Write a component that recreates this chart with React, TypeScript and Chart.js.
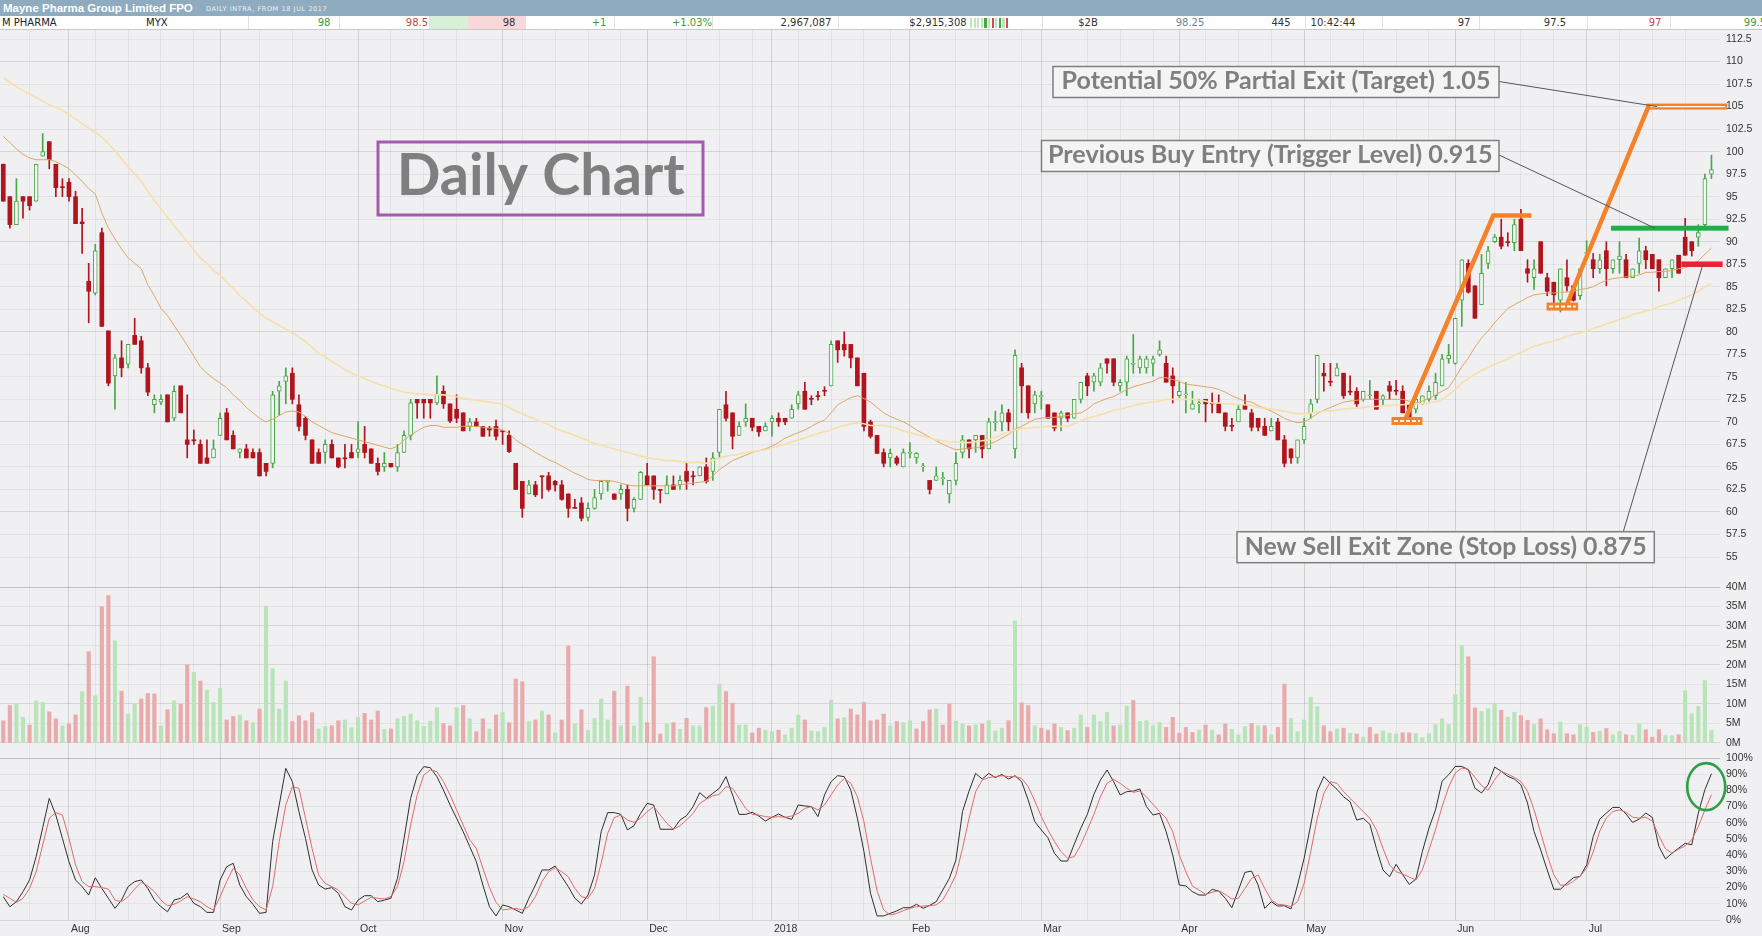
import React, { useEffect, useRef } from "react";
import { Chart, registerables } from "chart.js";

Chart.register(...registerables);

// ---------------- categories ----------------
const FIRST_DAY = "2017-07-18";
const LAST_DAY = "2018-07-27";
const MARKET_HOLIDAYS = ["2017-12-25", "2017-12-26", "2018-01-01", "2018-01-26", "2018-03-30", "2018-04-02", "2018-04-25", "2018-06-11"];
const MONTH_TICK_LABELS = ["Aug", "Sep", "Oct", "Nov", "Dec", "2018", "Feb", "Mar", "Apr", "May", "Jun", "Jul"];

// ---------------- tick labels ----------------
const PRICE_TICKS = [55, 57.5, 60, 62.5, 65, 67.5, 70, 72.5, 75, 77.5, 80, 82.5, 85, 87.5, 90, 92.5, 95, 97.5, 100, 102.5, 105, 107.5, 110, 112.5];
const VOLUME_TICKS = [0, 5, 10, 15, 20, 25, 30, 35, 40];
const STOCH_TICKS = [0, 10, 20, 30, 40, 50, 60, 70, 80, 90, 100];

// ---------------- price series (cents) ----------------
const OPEN = [
  98.6, 95.0, 91.9, 95.0, 95.0, 94.5, 99.5, 101.1, 98.6, 96.1,
  96.6, 95.0, 92.2, 85.6, 84.3, 91.0, 80.1, 75.1, 77.1, 76.4,
  79.6, 79.0, 76.0, 71.9, 72.2, 73.0, 70.4, 74.0, 68.0, 68.0,
  67.5, 66.0, 66.0, 68.5, 71.0, 68.5, 66.6, 67.0, 66.6, 66.6,
  65.4, 65.4, 73.4, 74.5, 75.4, 71.9, 70.4, 68.0, 66.6, 66.6,
  67.5, 66.0, 66.0, 66.6, 66.6, 67.5, 67.0, 65.4, 65.0, 65.4,
  65.0, 66.6, 68.5, 72.5, 72.5, 72.5, 72.1, 73.4, 72.0, 71.4,
  71.0, 69.5, 70.0, 69.5, 69.3, 69.5, 69.0, 68.5, 65.4, 63.4,
  62.0, 63.0, 64.0, 64.0, 63.4, 63.0, 62.0, 60.5, 61.0, 59.4,
  60.4, 62.0, 63.3, 62.0, 62.0, 62.5, 60.4, 61.4, 64.0, 64.0,
  62.5, 62.0, 63.0, 63.0, 64.5, 64.0, 64.0, 65.0, 64.5, 66.6,
  71.9, 71.0, 68.5, 70.0, 70.4, 69.5, 69.0, 70.0, 70.4, 70.4,
  70.4, 72.0, 73.4, 72.6, 72.9, 73.5, 74.0, 79.0, 78.6, 78.6,
  77.1, 75.4, 70.0, 68.5, 66.6, 66.0, 66.0, 65.0, 66.5, 66.0,
  65.0, 63.5, 63.5, 63.7, 62.0, 63.5, 66.6, 68.0, 68.0, 68.5,
  67.0, 69.9, 70.0, 71.0, 67.0, 76.0, 74.0, 72.0, 72.8, 71.9,
  71.0, 70.4, 71.0, 70.4, 72.5, 75.1, 74.4, 74.4, 77.0, 77.0,
  74.0, 74.4, 76.4, 76.0, 76.0, 76.5, 77.5, 76.5, 75.1, 72.9,
  73.0, 71.4, 72.0, 72.5, 72.1, 72.0, 71.0, 69.6, 70.0, 71.9,
  71.0, 70.4, 69.5, 69.0, 70.0, 68.0, 67.0, 66.0, 68.0, 71.0,
  72.5, 75.4, 74.5, 75.1, 75.4, 73.4, 73.4, 72.5, 72.9, 73.4,
  72.5, 74.0, 73.5, 73.4, 71.9, 71.4, 72.0, 72.5, 72.9, 74.0,
  77.0, 76.5, 83.5, 87.6, 85.1, 83.0, 87.6, 90.0, 90.5, 90.0,
  89.9, 92.5, 87.0, 86.0, 90.0, 86.0, 85.5, 83.5, 86.0, 85.1,
  84.0, 88.7, 88.0, 87.0, 89.0, 87.0, 88.0, 88.0, 86.0, 87.6,
  89.0, 88.6, 88.0, 86.0, 87.0, 88.5, 90.5, 90.0, 90.5, 91.9,
  97.5,
];
const HIGH = [
  98.6, 95.0, 97.0, 95.0, 95.0, 98.6, 102.0, 101.1, 98.6, 97.0,
  97.0, 95.6, 93.7, 87.6, 89.7, 91.5, 80.1, 77.5, 79.0, 78.6,
  81.5, 79.5, 76.5, 73.0, 73.0, 73.0, 74.0, 74.0, 73.0, 69.1,
  68.0, 68.0, 68.0, 71.0, 71.5, 69.0, 67.0, 67.5, 67.0, 67.0,
  65.4, 73.4, 74.5, 76.0, 76.0, 73.0, 70.6, 68.0, 67.0, 68.0,
  68.0, 66.0, 67.5, 67.5, 70.0, 69.5, 67.0, 66.0, 66.6, 65.4,
  67.5, 69.0, 72.5, 72.5, 72.5, 72.5, 75.1, 74.0, 72.0, 73.0,
  71.0, 70.4, 70.4, 69.5, 69.5, 70.2, 69.0, 69.0, 65.4, 63.4,
  63.5, 63.4, 64.0, 64.4, 63.5, 63.5, 62.0, 61.4, 61.6, 61.0,
  62.5, 63.5, 63.5, 62.0, 63.0, 63.0, 61.6, 64.5, 65.4, 64.0,
  62.5, 64.0, 64.0, 64.0, 65.4, 64.5, 65.0, 66.0, 66.6, 71.4,
  73.4, 71.0, 70.0, 72.0, 70.4, 69.5, 69.9, 70.7, 71.0, 70.4,
  71.9, 73.4, 74.4, 72.9, 73.4, 73.9, 79.0, 79.0, 80.0, 78.6,
  77.1, 75.4, 70.2, 68.5, 67.0, 67.0, 66.2, 67.0, 67.7, 66.6,
  65.4, 63.5, 65.0, 64.4, 63.5, 66.6, 68.5, 68.0, 68.5, 68.5,
  70.4, 71.2, 71.9, 71.4, 78.0, 76.5, 74.0, 73.4, 73.4, 71.9,
  71.0, 71.2, 71.0, 72.5, 74.4, 75.4, 75.4, 76.5, 77.0, 77.0,
  74.7, 77.3, 79.7, 77.3, 77.3, 77.3, 79.0, 77.3, 76.0, 74.4,
  74.4, 73.4, 72.5, 72.5, 73.2, 73.0, 71.0, 70.4, 71.9, 73.0,
  71.4, 70.4, 70.4, 70.4, 70.4, 68.5, 67.0, 68.0, 70.4, 72.5,
  77.4, 76.5, 76.5, 76.5, 75.4, 75.1, 73.8, 73.4, 74.6, 73.4,
  73.0, 74.5, 74.6, 74.0, 71.9, 72.9, 72.9, 74.0, 75.4, 77.5,
  78.6, 81.5, 88.0, 88.0, 85.1, 88.6, 89.5, 90.8, 92.5, 91.0,
  92.5, 93.6, 88.0, 88.0, 90.0, 86.5, 85.5, 87.0, 88.0, 85.1,
  87.0, 90.1, 88.7, 88.6, 90.0, 88.0, 90.0, 88.6, 87.0, 90.4,
  89.5, 88.6, 88.0, 87.0, 88.0, 88.5, 92.6, 90.0, 91.9, 97.5,
  99.6,
];
const LOW = [
  94.5, 91.5, 91.9, 92.6, 93.5, 94.5, 99.5, 98.1, 95.0, 95.0,
  94.5, 92.0, 88.7, 81.0, 84.1, 80.6, 74.0, 71.4, 75.0, 76.0,
  78.6, 75.4, 72.9, 71.0, 71.9, 70.0, 70.1, 71.0, 66.0, 67.5,
  65.4, 65.4, 66.0, 68.5, 68.0, 67.0, 66.0, 66.0, 66.0, 64.0,
  64.0, 64.9, 70.7, 72.0, 72.0, 69.0, 68.0, 65.4, 65.4, 65.4,
  66.0, 64.9, 64.9, 66.0, 66.0, 66.0, 65.4, 64.1, 64.5, 65.0,
  64.5, 66.6, 68.0, 70.4, 70.4, 70.4, 71.9, 71.5, 69.9, 69.9,
  69.0, 69.0, 69.5, 68.4, 68.4, 68.0, 67.5, 66.6, 62.5, 59.4,
  62.0, 61.7, 61.5, 62.3, 62.3, 61.3, 59.4, 60.4, 59.0, 59.0,
  60.3, 61.4, 62.3, 61.4, 61.4, 59.0, 60.0, 61.4, 63.0, 61.4,
  61.0, 62.0, 62.5, 62.5, 62.5, 63.0, 64.0, 63.2, 63.5, 66.0,
  70.1, 67.0, 68.5, 69.5, 69.0, 68.4, 69.0, 68.4, 69.5, 69.7,
  70.4, 71.4, 71.4, 71.9, 72.4, 72.9, 74.0, 76.6, 77.3, 76.0,
  74.0, 69.0, 68.2, 66.5, 65.0, 65.0, 65.2, 65.0, 66.0, 65.4,
  64.5, 62.0, 63.5, 63.0, 61.0, 63.0, 66.0, 66.0, 66.6, 66.0,
  67.0, 69.0, 69.0, 69.0, 66.0, 71.0, 70.4, 71.0, 71.4, 70.4,
  69.0, 69.0, 70.0, 70.4, 72.1, 72.9, 73.4, 74.0, 75.4, 74.0,
  73.4, 72.9, 75.4, 75.4, 75.4, 75.1, 77.3, 74.4, 72.1, 72.7,
  71.0, 71.4, 71.0, 70.0, 71.0, 71.0, 69.0, 69.0, 70.0, 71.4,
  69.0, 69.0, 68.5, 69.0, 68.0, 65.0, 65.4, 65.4, 67.6, 70.4,
  72.1, 73.4, 74.0, 75.1, 72.6, 73.0, 71.7, 72.3, 72.6, 71.4,
  71.9, 72.5, 73.0, 71.0, 69.7, 71.0, 71.9, 72.3, 72.5, 74.0,
  76.5, 76.4, 80.6, 84.3, 81.5, 83.0, 87.0, 89.9, 89.2, 89.5,
  89.0, 89.0, 85.5, 84.7, 86.5, 84.0, 82.8, 82.2, 84.5, 83.4,
  83.6, 88.0, 86.0, 86.5, 85.1, 86.5, 86.5, 86.0, 86.0, 86.5,
  87.0, 87.0, 84.5, 86.0, 86.0, 86.5, 88.5, 88.4, 89.5, 91.7,
  97.0,
];
const CLOSE = [
  94.5, 91.9, 94.5, 94.5, 94.0, 98.6, 100.0, 99.1, 96.0, 96.0,
  95.0, 92.0, 92.0, 84.5, 89.0, 80.6, 74.3, 77.1, 76.0, 78.6,
  78.6, 76.0, 73.3, 72.5, 72.5, 70.0, 73.4, 71.0, 67.5, 67.9,
  65.4, 65.4, 67.0, 70.4, 68.0, 67.0, 67.0, 66.0, 66.0, 64.0,
  64.5, 73.0, 74.0, 75.1, 72.5, 69.5, 68.5, 65.4, 65.4, 67.5,
  66.0, 65.0, 65.9, 66.0, 67.0, 66.6, 65.4, 64.5, 65.4, 65.0,
  66.6, 68.5, 72.1, 72.1, 72.1, 72.1, 73.0, 72.0, 70.1, 70.4,
  69.0, 70.0, 69.5, 68.4, 69.1, 68.4, 68.9, 66.7, 62.5, 60.4,
  63.0, 61.9, 63.9, 62.5, 63.0, 61.4, 60.4, 60.4, 59.3, 60.4,
  61.6, 63.4, 63.4, 61.4, 62.5, 60.4, 61.4, 64.4, 63.0, 62.5,
  62.4, 63.0, 62.5, 63.5, 63.4, 63.9, 65.0, 63.4, 66.0, 71.4,
  70.4, 68.4, 69.5, 70.4, 69.4, 68.9, 69.5, 70.4, 70.0, 70.0,
  71.4, 73.0, 71.4, 72.5, 72.8, 73.4, 78.6, 78.0, 78.0, 77.1,
  74.0, 69.5, 68.4, 66.5, 65.4, 66.5, 65.4, 66.6, 66.6, 66.5,
  65.1, 62.5, 64.0, 63.8, 63.5, 65.4, 68.0, 67.0, 68.5, 67.0,
  70.0, 70.0, 71.0, 70.0, 77.4, 74.0, 71.0, 73.0, 72.9, 70.4,
  69.3, 71.0, 70.4, 72.5, 74.4, 74.0, 75.1, 76.0, 76.5, 74.4,
  74.4, 77.0, 76.5, 77.0, 77.0, 77.0, 78.0, 74.4, 74.0, 73.4,
  73.1, 72.0, 72.1, 72.0, 72.0, 71.0, 69.5, 69.5, 71.4, 71.4,
  69.4, 69.4, 68.5, 69.5, 68.0, 65.4, 66.0, 68.0, 69.5, 72.0,
  77.4, 75.1, 74.4, 76.0, 72.9, 73.3, 72.0, 73.4, 73.0, 71.4,
  72.9, 73.4, 73.4, 71.0, 70.3, 72.5, 72.9, 73.4, 74.4, 77.0,
  77.4, 81.5, 88.0, 84.4, 81.5, 86.5, 89.0, 90.5, 89.5, 89.9,
  91.9, 89.0, 86.5, 87.0, 86.5, 84.5, 84.1, 87.0, 85.1, 83.5,
  87.0, 88.8, 87.0, 88.0, 87.0, 88.0, 88.4, 86.0, 87.0, 89.0,
  88.0, 87.0, 86.0, 87.0, 88.0, 86.5, 88.5, 89.0, 91.0, 97.0,
  98.0,
];
const MA_FAST = [
  101.7, 101.0, 100.3, 99.7, 99.3, 99.1, 99.1, 99.1, 98.9, 98.5,
  98.1, 97.4, 96.7, 95.9, 95.3, 93.2, 91.5, 90.3, 89.2, 88.2,
  87.6, 87.0, 85.2, 84.0, 82.6, 81.8, 80.7, 79.6, 78.5, 77.3,
  76.1, 75.4, 74.8, 74.3, 73.8, 73.0, 72.4, 71.6, 71.0, 70.4,
  70.0, 70.3, 70.7, 71.1, 71.2, 71.1, 70.6, 70.0, 69.6, 69.2,
  68.8, 68.6, 68.4, 68.2, 68.0, 67.8, 67.6, 67.4, 67.2, 67.0,
  67.3, 68.0, 68.5, 69.0, 69.4, 69.6, 69.6, 69.4, 69.4, 69.4,
  69.5, 69.5, 69.5, 69.4, 69.3, 69.3, 69.1, 68.7, 68.0, 67.5,
  67.1, 66.6, 66.2, 65.8, 65.5, 65.1, 64.7, 64.3, 64.0, 63.6,
  63.5, 63.5, 63.5, 63.4, 63.2, 63.0, 62.9, 62.9, 62.9, 62.9,
  62.9, 62.9, 62.9, 63.0, 63.1, 63.2, 63.3, 63.4, 64.0, 64.7,
  65.2, 65.7, 66.0, 66.3, 66.6, 66.8, 67.0, 67.3, 67.7, 68.2,
  68.5, 68.8, 69.1, 69.5, 69.9, 70.2, 71.0, 71.9, 72.3, 72.7,
  72.9, 72.6, 72.2, 71.6, 71.0, 70.6, 70.3, 70.0, 69.6, 69.1,
  68.7, 68.3, 67.9, 67.5, 67.2, 66.9, 67.0, 67.1, 67.1, 67.3,
  67.5, 67.8, 68.2, 68.6, 69.2, 69.5, 69.9, 70.3, 70.4, 70.5,
  70.5, 70.6, 70.7, 70.9, 71.0, 71.4, 72.0, 72.3, 72.6, 72.8,
  73.2, 73.6, 73.9, 74.1, 74.3, 74.5, 74.9, 74.9, 74.7, 74.5,
  74.2, 74.1, 74.0, 73.9, 73.8, 73.6, 73.3, 72.9, 72.6, 72.3,
  72.2, 71.8, 71.5, 71.2, 70.8, 70.4, 70.1, 69.9, 70.0, 70.4,
  70.9, 71.3, 71.6, 71.9, 72.2, 72.3, 72.4, 72.5, 72.5, 72.5,
  72.5, 72.5, 72.5, 72.5, 72.3, 72.1, 72.3, 72.6, 73.0, 73.4,
  73.8, 74.9, 76.1, 77.1, 78.3, 79.3, 80.1, 81.0, 81.8, 82.6,
  83.0, 83.4, 83.8, 84.1, 84.2, 84.3, 84.3, 84.4, 84.4, 84.5,
  84.7, 84.8, 85.0, 85.4, 85.7, 85.9, 86.0, 86.1, 86.2, 86.3,
  86.6, 86.6, 86.7, 86.7, 86.8, 87.0, 87.1, 87.4, 87.9, 88.6,
  89.3,
];
const MA_SLOW = [
  108.2, 107.7, 107.2, 106.8, 106.4, 106.0, 105.6, 105.2, 104.9, 104.6,
  104.1, 103.6, 103.1, 102.6, 102.1, 101.6, 100.9, 100.1, 99.2, 98.3,
  97.5, 96.7, 95.6, 94.6, 93.7, 92.7, 91.8, 90.9, 90.0, 89.1,
  88.2, 87.6, 86.8, 86.3, 85.5, 84.8, 84.0, 83.4, 82.7, 82.1,
  81.5, 81.1, 80.7, 80.3, 79.9, 79.4, 78.9, 78.3, 77.6, 77.2,
  76.7, 76.3, 75.8, 75.4, 75.1, 74.8, 74.5, 74.2, 74.0, 73.7,
  73.5, 73.3, 73.2, 73.1, 73.1, 73.0, 73.0, 73.0, 72.9, 72.8,
  72.6, 72.5, 72.4, 72.3, 72.2, 72.1, 72.0, 71.6, 71.2, 70.9,
  70.6, 70.3, 70.0, 69.7, 69.3, 69.0, 68.8, 68.5, 68.2, 67.9,
  67.6, 67.4, 67.2, 67.0, 66.8, 66.6, 66.4, 66.2, 66.0, 65.9,
  65.8, 65.7, 65.7, 65.6, 65.5, 65.5, 65.5, 65.4, 65.7, 66.0,
  66.2, 66.3, 66.4, 66.6, 66.7, 66.8, 66.9, 67.1, 67.3, 67.5,
  67.8, 68.0, 68.2, 68.5, 68.7, 68.9, 69.1, 69.4, 69.6, 69.8,
  69.9, 69.8, 69.6, 69.6, 69.6, 69.5, 69.3, 69.0, 68.8, 68.6,
  68.4, 68.2, 68.0, 67.9, 67.8, 67.8, 67.7, 67.7, 67.8, 67.9,
  68.0, 68.3, 68.6, 68.9, 69.1, 69.3, 69.3, 69.4, 69.4, 69.5,
  69.5, 69.5, 69.5, 69.8, 70.1, 70.4, 70.6, 70.8, 71.0, 71.3,
  71.4, 71.6, 71.8, 72.0, 72.1, 72.2, 72.3, 72.5, 72.5, 72.5,
  72.5, 72.5, 72.4, 72.3, 72.1, 72.1, 72.0, 72.0, 71.9, 71.9,
  71.8, 71.6, 71.5, 71.4, 71.3, 71.2, 71.0, 70.9, 70.9, 71.0,
  71.1, 71.2, 71.2, 71.3, 71.4, 71.5, 71.5, 71.6, 71.7, 71.7,
  71.8, 71.8, 71.9, 71.9, 72.0, 72.0, 72.0, 72.1, 72.2, 72.5,
  73.0, 73.6, 74.3, 74.8, 75.3, 75.7, 76.0, 76.4, 76.7, 77.0,
  77.4, 77.7, 78.1, 78.4, 78.6, 78.8, 79.0, 79.2, 79.5, 79.7,
  79.9, 80.1, 80.4, 80.6, 80.9, 81.1, 81.4, 81.6, 81.9, 82.1,
  82.3, 82.5, 82.8, 83.0, 83.2, 83.5, 83.8, 84.1, 84.5, 85.0,
  85.3,
];

// ---------------- volume (millions) ----------------
const VOLUME = [
  5.7, 9.6, 10.0, 6.6, 4.6, 10.8, 10.4, 8.0, 6.2, 4.4,
  4.9, 7.2, 13.2, 23.4, 12.1, 35.0, 37.8, 26.2, 13.3, 7.4,
  10.0, 11.3, 12.7, 12.6, 4.4, 8.5, 10.8, 9.9, 20.0, 18.1,
  15.9, 13.6, 10.4, 14.0, 5.9, 6.8, 7.2, 5.7, 5.2, 8.7,
  35.1, 19.1, 8.7, 15.9, 5.5, 7.0, 5.7, 7.8, 3.6, 4.2,
  4.4, 5.7, 5.9, 3.9, 6.5, 7.6, 5.9, 8.2, 3.5, 3.6,
  6.2, 6.8, 7.4, 5.7, 4.2, 5.6, 9.1, 5.0, 4.4, 9.1,
  9.6, 6.2, 2.9, 6.2, 3.6, 7.2, 7.8, 5.2, 16.4, 15.7,
  5.5, 5.9, 8.2, 7.2, 2.6, 5.9, 24.9, 4.9, 8.5, 3.2,
  6.3, 11.3, 5.9, 13.3, 4.4, 14.6, 4.4, 11.7, 5.2, 22.1,
  2.3, 4.9, 5.2, 3.5, 6.3, 4.4, 4.4, 9.1, 9.5, 15.1,
  13.2, 10.2, 4.6, 4.6, 2.6, 3.8, 3.3, 2.9, 3.3, 2.1,
  3.8, 7.2, 5.9, 3.1, 2.9, 4.0, 11.0, 6.2, 6.5, 8.7,
  7.2, 10.4, 5.7, 5.9, 7.4, 4.4, 5.5, 5.2, 5.7, 3.6,
  5.5, 8.5, 8.7, 4.6, 10.0, 5.6, 4.9, 4.4, 4.6, 4.9,
  5.7, 3.1, 3.8, 5.7, 31.3, 10.3, 9.6, 4.4, 3.8, 3.3,
  4.9, 4.0, 3.2, 3.8, 7.2, 4.0, 7.2, 5.5, 7.9, 4.4,
  4.6, 9.5, 10.9, 5.5, 5.7, 4.4, 5.3, 4.0, 6.6, 2.5,
  4.0, 2.7, 3.3, 4.6, 3.3, 2.1, 4.9, 3.5, 2.1, 4.2,
  5.0, 4.4, 4.4, 2.1, 4.0, 15.1, 6.3, 2.9, 5.9, 11.7,
  9.3, 4.4, 2.9, 3.6, 3.8, 2.5, 2.3, 1.5, 4.0, 2.3,
  3.1, 2.5, 2.3, 2.6, 2.6, 2.4, 1.3, 2.4, 4.7, 6.2,
  4.7, 12.4, 25.0, 22.1, 9.0, 8.1, 8.8, 10.0, 8.4, 6.6,
  7.9, 7.0, 5.8, 4.7, 6.2, 3.4, 2.4, 5.4, 2.4, 2.1,
  4.7, 4.0, 2.7, 3.0, 3.7, 2.1, 3.0, 2.1, 1.9, 4.9,
  3.4, 1.5, 3.4, 1.9, 1.9, 2.1, 13.4, 7.5, 9.4, 16.0,
  3.2,
];

// ---------------- stochastic (%) ----------------
const STOCH_K = [
  14.4, 8.2, 11.3, 17.5, 24.7, 39.1, 57.0, 75.1, 64.8, 50.4,
  36.0, 24.7, 20.6, 15.4, 26.1, 19.5, 13.4, 7.2, 12.3, 20.6,
  23.7, 24.7, 19.5, 12.3, 8.2, 5.1, 12.3, 13.4, 16.5, 10.3,
  8.2, 4.7, 4.7, 24.7, 32.9, 35.0, 21.6, 14.4, 9.7, 4.1,
  4.7, 48.4, 71.0, 93.6, 85.4, 66.9, 50.4, 30.9, 21.6, 19.1,
  20.0, 16.5, 8.2, 6.2, 12.3, 15.0, 15.0, 11.3, 12.3, 13.4,
  25.7, 50.4, 75.1, 89.1, 94.7, 94.0, 88.5, 80.2, 71.0, 62.8,
  54.5, 45.3, 36.0, 21.6, 8.2, 2.5, 9.3, 8.2, 6.2, 4.1,
  13.4, 21.6, 30.9, 30.9, 33.3, 26.7, 20.6, 13.4, 9.9, 15.4,
  27.8, 54.5, 66.3, 66.3, 65.2, 55.6, 58.2, 65.8, 72.0, 71.0,
  56.0, 56.0, 56.0, 61.7, 64.4, 70.0, 78.6, 75.1, 78.2, 81.3,
  88.5, 77.2, 65.2, 65.2, 66.5, 64.2, 61.1, 63.4, 65.4, 63.4,
  62.1, 71.0, 70.4, 70.0, 63.8, 77.2, 85.4, 89.1, 88.5, 80.2,
  62.8, 42.2, 16.5, 2.5, 2.5, 4.1, 5.6, 7.6, 7.6, 9.7,
  7.2, 9.0, 11.3, 18.5, 25.7, 37.0, 66.9, 79.6, 90.5, 87.0,
  90.5, 87.9, 89.9, 87.0, 89.1, 85.4, 74.1, 60.7, 55.6, 50.8,
  41.2, 36.4, 36.4, 46.7, 56.6, 65.2, 77.6, 86.4, 92.6, 85.4,
  77.2, 79.2, 79.6, 80.9, 70.0, 64.8, 65.8, 54.5, 40.1, 21.6,
  21.0, 17.5, 15.4, 15.4, 18.9, 17.9, 13.4, 7.6, 18.5, 29.4,
  30.2, 21.6, 7.2, 11.3, 8.6, 8.8, 6.8, 21.6, 38.1, 58.6,
  79.6, 88.5, 84.4, 80.7, 76.1, 73.0, 61.7, 62.8, 59.1, 44.2,
  30.9, 26.7, 34.4, 28.0, 22.0, 25.2, 42.3, 56.7, 68.0, 85.6,
  89.7, 94.8, 94.8, 92.8, 81.4, 78.4, 83.5, 94.4, 91.8, 88.7,
  87.0, 83.5, 72.2, 54.6, 43.3, 30.9, 19.0, 19.0, 22.7, 26.2,
  26.8, 34.0, 51.5, 62.3, 66.0, 69.5, 69.5, 65.4, 60.2, 62.3,
  66.0, 63.3, 45.4, 37.7, 41.2, 44.3, 47.4, 46.4, 66.0, 80.4,
  90.3,
];
const STOCH_D = [
  15.8, 13.4, 10.9, 13.4, 19.5, 29.8, 46.3, 62.8, 66.3, 64.8,
  50.4, 34.0, 23.7, 20.6, 20.6, 20.0, 19.1, 12.3, 11.3, 14.4,
  19.1, 23.3, 21.0, 17.5, 12.3, 8.8, 9.7, 11.7, 14.4, 13.0,
  11.3, 8.2, 6.2, 14.4, 23.7, 31.9, 27.8, 19.5, 12.3, 8.2,
  6.2, 20.6, 48.4, 71.0, 82.3, 81.3, 62.8, 44.2, 27.8, 22.6,
  20.6, 18.5, 14.4, 10.3, 9.3, 11.7, 14.0, 13.4, 13.0, 14.4,
  20.6, 36.0, 58.6, 77.2, 89.5, 92.6, 91.6, 85.4, 77.2, 67.9,
  58.6, 49.4, 44.2, 32.0, 20.0, 11.0, 6.2, 6.8, 7.2, 6.2,
  8.2, 14.4, 23.7, 29.8, 32.3, 29.8, 26.7, 19.5, 14.4, 13.4,
  19.5, 35.0, 53.5, 63.2, 64.8, 61.7, 60.3, 62.8, 66.9, 70.0,
  64.8, 59.7, 56.0, 58.2, 61.7, 65.8, 72.0, 74.5, 76.7, 77.6,
  82.3, 81.3, 75.1, 68.9, 65.2, 64.8, 63.8, 63.4, 63.8, 63.4,
  64.2, 65.8, 68.9, 70.0, 67.9, 71.0, 77.2, 83.3, 87.4, 84.4,
  76.1, 60.7, 38.1, 18.0, 6.2, 3.1, 4.1, 5.8, 7.2, 8.2,
  8.6, 8.8, 9.3, 12.3, 19.5, 27.8, 44.2, 62.8, 79.2, 86.4,
  87.9, 88.5, 89.1, 88.5, 88.5, 87.4, 82.3, 73.5, 63.8, 55.6,
  48.4, 42.2, 38.1, 39.1, 46.3, 55.6, 65.2, 76.1, 84.4, 86.8,
  84.4, 81.3, 78.8, 79.6, 76.1, 71.4, 66.9, 62.8, 54.5, 40.0,
  29.8, 21.0, 18.5, 15.8, 17.1, 18.1, 15.8, 13.0, 13.4, 19.5,
  25.7, 27.8, 19.5, 12.3, 9.7, 9.3, 8.2, 11.3, 22.6, 42.2,
  62.8, 78.2, 85.4, 84.4, 79.2, 75.1, 71.0, 66.9, 62.8, 55.6,
  44.2, 34.0, 29.8, 28.4, 26.5, 24.7, 31.0, 43.3, 55.7, 70.1,
  82.0, 90.7, 93.8, 93.0, 88.0, 83.0, 80.0, 86.6, 91.8, 90.0,
  88.0, 85.5, 79.5, 68.0, 54.0, 40.0, 28.0, 21.5, 21.5, 24.0,
  27.0, 32.0, 42.0, 55.0, 63.0, 67.0, 68.0, 66.5, 63.5, 62.9,
  63.5, 61.0, 52.0, 44.0, 41.2, 43.7, 45.8, 49.5, 57.7, 68.0,
  77.3,
];

// ---------------- annotation values ----------------
const TARGET_LEVEL = 105;
const TRIGGER_LEVEL = 91.5;
const STOP_LEVEL = 87.5;
const TREND_UP_1 = [[213.3, 70.1], [226.8, 92.9], [232.6, 92.9]];
const TREND_UP_2 = [[237.7, 82.5], [250.4, 105]];
const PIVOT_LOWS = [[211.3, 216.0, 70.1], [234.9, 239.7, 82.8]];
const STOCH_HIGHLIGHT = [259.2, 82.3];
const TEXT_TITLE = "Daily Chart";
const TEXT_TARGET = "Potential 50% Partial Exit (Target) 1.05";
const TEXT_TRIGGER = "Previous Buy Entry (Trigger Level) 0.915";
const TEXT_STOP = "New Sell Exit Zone (Stop Loss) 0.875";

// ---------------- header texts ----------------
const HEADER_TITLE = "Mayne Pharma Group Limited FPO";
const HEADER_SUB = "DAILY INTRA, FROM 18 JUL 2017";
const QUOTE_TEXT = ["M PHARMA", "MYX", "98", "98.5", "98", "+1", "+1.03%", "2,967,087", "$2,915,308", "$2B", "98.25", "445", "10:42:44", "97", "97.5", "97", "99.5"];
const DEPTH_BARS = ["u", "u", "u", "u", "U", "u", "d", "u", "U", "u", "d"];

// ---------------- layout & styles ----------------
const W = 1762;
const X_MIN = -0.5;
const X_MAX = 261.3;
const AXIS_W = 42;
const BG = "#f0f0f2";
const UP = "#46a846";
const UP_FILL = "#f6f6f7";
const DOWN = "#b0141c";
const VOL_UP = "#b9e3b9";
const VOL_DOWN = "#e9aaac";
const MA_FAST_COLOR = "#dba764";
const MA_SLOW_COLOR = "#f6dfa9";
const GRID_MONTH = "rgba(0,0,0,0.13)";
const GRID_WEEK = "rgba(0,0,0,0.05)";
const H_MAJOR = "rgba(0,0,0,0.11)";
const H_MINOR = "rgba(0,0,0,0.05)";
const H_DIVIDER = "rgba(0,0,0,0.2)";
const ORANGE = "#f5822a";
const AXIS_FONT = '"Liberation Sans", Arial, sans-serif';
const NOTE_FONT = 'Lato, "Open Sans", sans-serif';
const NOTE_GRAY = "#7f7f7f";
const QUOTE_X = [2, 146, 324, 417, 509, 599, 692, 806, 938, 1088, 1190, 1281, 1333, 1464, 1555, 1655, 1755];
const QUOTE_COLOR = ["#222", "#222", "#3a9b3a", "#c0474b", "#333", "#3a9b3a", "#3a9b3a", "#333", "#333", "#333", "#6a829a", "#333", "#333", "#333", "#333", "#c0474b", "#3a9b3a"];
const QUOTE_SEPS = [248, 339, 429, 525, 614, 712, 838, 910, 1042, 1305, 1382, 1479, 1587, 1670];

// ---------------- derived categories ----------------
function buildTradingDays() {
  const out: Date[] = [];
  const d = new Date(FIRST_DAY + "T12:00:00Z");
  const end = new Date(LAST_DAY + "T12:00:00Z");
  while (d.getTime() <= end.getTime()) {
    const dow = d.getUTCDay();
    const iso = d.toISOString().slice(0, 10);
    if (dow !== 0 && dow !== 6 && MARKET_HOLIDAYS.indexOf(iso) < 0) out.push(new Date(d.getTime()));
    d.setUTCDate(d.getUTCDate() + 1);
  }
  return out;
}
const DAYS = buildTradingDays();
const IDX = DAYS.map((_, i) => i);
const MONTH_STARTS: number[] = [];
const WEEK_STARTS: number[] = [];
DAYS.forEach((d, i) => {
  if (i === 0) return;
  const p = DAYS[i - 1];
  if (d.getUTCMonth() !== p.getUTCMonth()) MONTH_STARTS.push(i);
  const gap = (d.getTime() - p.getTime()) / 86400000;
  if (d.getUTCDay() < p.getUTCDay() || gap >= 7) WEEK_STARTS.push(i);
});
const MONTH_SET = new Set(MONTH_STARTS);
const MONTH_LABEL_AT = new Map(MONTH_STARTS.map((m, k) => [m, MONTH_TICK_LABELS[k]]));
const GRID_TICKS = MONTH_STARTS.concat(WEEK_STARTS.filter((w) => MONTH_STARTS.every((m) => Math.abs(m - w) > 2))).sort((a, b) => a - b);

const isUp = (i: number) => CLOSE[i] >= OPEN[i];
const volUp = (i: number) => (i === 0 ? CLOSE[0] >= OPEN[0] : CLOSE[i] >= CLOSE[i - 1]);

function xAxis(showLabels: boolean): any {
  return {
    type: "linear",
    min: X_MIN,
    max: X_MAX,
    bounds: "data",
    offset: false,
    afterBuildTicks: (s: any) => {
      s.ticks = GRID_TICKS.map((v) => ({ value: v }));
    },
    afterFit: (s: any) => {
      s.height = showLabels ? 16 : 0;
      s.paddingLeft = 0;
      s.paddingRight = 0;
    },
    grid: {
      offset: false,
      drawTicks: false,
      lineWidth: 1,
      color: (c: any) => (c.tick && MONTH_SET.has(c.tick.value) ? GRID_MONTH : GRID_WEEK),
    },
    border: { display: false },
    ticks: {
      display: showLabels,
      autoSkip: false,
      maxRotation: 0,
      align: "start",
      labelOffset: 2,
      padding: 3,
      color: "#333",
      font: { family: AXIS_FONT, size: 10.5 },
      callback: (v: any) => MONTH_LABEL_AT.get(v) || "",
    },
  };
}

function yAxis(min: number, max: number, ticks: number[], fmt: (v: number) => string, gridColor: (v: number) => string): any {
  return {
    type: "linear",
    position: "right",
    min,
    max,
    bounds: "data",
    beginAtZero: false,
    afterBuildTicks: (s: any) => {
      s.ticks = ticks.map((v) => ({ value: v }));
    },
    afterFit: (s: any) => {
      s.width = AXIS_W;
      s.paddingTop = 0;
      s.paddingBottom = 0;
    },
    grid: { drawTicks: false, lineWidth: 1, color: (c: any) => (c.tick ? gridColor(c.tick.value) : H_MINOR) },
    border: { display: false },
    ticks: { padding: 6, color: "#333", font: { family: AXIS_FONT, size: 10.5 }, callback: (v: any) => fmt(v) },
  };
}

const baseOptions = {
  responsive: false,
  animation: false,
  devicePixelRatio: 1,
  events: [],
  plugins: { legend: { display: false }, tooltip: { enabled: false } },
};

function fitText(ctx: CanvasRenderingContext2D, text: string, cx: number, baseline: number, width: number, color: string) {
  ctx.font = `700 100px ${NOTE_FONT}`;
  const m = ctx.measureText(text).width;
  const size = (100 * width) / m;
  ctx.font = `700 ${size}px ${NOTE_FONT}`;
  ctx.fillStyle = color;
  ctx.textAlign = "center";
  ctx.textBaseline = "alphabetic";
  ctx.fillText(text, cx, baseline);
}

const CALLOUTS = [
  { text: TEXT_TARGET, box: [1053, 36.5, 446, 31], textW: 429, base: 58.5, from: [1499, 51.5], to: [251.7, TARGET_LEVEL] },
  { text: TEXT_TRIGGER, box: [1041.5, 110.5, 457.5, 31], textW: 445, base: 133.3, from: [1499, 125], to: [251.4, TRIGGER_LEVEL] },
  { text: TEXT_STOP, box: [1237, 501.7, 417.3, 31], textW: 402, base: 525, from: [1623.3, 501.7], to: [258.7, STOP_LEVEL] },
];

const priceAnnotations = {
  id: "priceAnnotations",
  afterDatasetsDraw(chart: any) {
    const { ctx } = chart;
    const x = chart.scales.x;
    const y = chart.scales.y;
    const px = (v: number) => x.getPixelForValue(v);
    const py = (v: number) => y.getPixelForValue(v);
    ctx.save();

    ctx.fillStyle = "#1fae48";
    ctx.fillRect(px(244.7), py(TRIGGER_LEVEL) - 2.5, px(262.6) - px(244.7), 5);
    ctx.fillStyle = "#ea2330";
    ctx.fillRect(px(255.4), py(STOP_LEVEL) - 2.75, px(261.7) - px(255.4), 5.5);

    ctx.strokeStyle = ORANGE;
    ctx.lineWidth = 4.5;
    ctx.lineJoin = "miter";
    ctx.lineCap = "butt";
    [TREND_UP_1, TREND_UP_2].forEach((pts) => {
      ctx.beginPath();
      pts.forEach(([i, p], k) => (k ? ctx.lineTo(px(i), py(p)) : ctx.moveTo(px(i), py(p))));
      ctx.stroke();
    });
    const tx0 = px(TREND_UP_2[1][0]) - 2;
    const tx1 = px(262.4);
    ctx.fillStyle = ORANGE;
    ctx.fillRect(tx0, py(TARGET_LEVEL) - 3, tx1 - tx0, 6);
    ctx.strokeStyle = "#ffffff";
    ctx.lineWidth = 1.2;
    ctx.beginPath();
    ctx.moveTo(tx0 + 4, py(TARGET_LEVEL));
    ctx.lineTo(tx1 - 2, py(TARGET_LEVEL));
    ctx.stroke();

    PIVOT_LOWS.forEach(([a, b, p]) => {
      const x0 = px(a);
      const x1 = px(b);
      ctx.fillStyle = ORANGE;
      ctx.fillRect(x0, py(p) - 4, x1 - x0, 8);
      ctx.strokeStyle = "#ffffff";
      ctx.lineWidth = 2;
      ctx.setLineDash([4, 2]);
      ctx.beginPath();
      ctx.moveTo(x0 + 2.5, py(p));
      ctx.lineTo(x1 - 2.5, py(p));
      ctx.stroke();
      ctx.setLineDash([]);
    });

    CALLOUTS.forEach((c) => {
      ctx.strokeStyle = "#555";
      ctx.lineWidth = 1;
      ctx.beginPath();
      ctx.moveTo(c.from[0], c.from[1]);
      ctx.lineTo(px(c.to[0]), py(c.to[1]));
      ctx.stroke();
    });
    CALLOUTS.forEach((c) => {
      const [bx, by, bw, bh] = c.box;
      ctx.fillStyle = "#f4f4f5";
      ctx.fillRect(bx, by, bw, bh);
      ctx.strokeStyle = NOTE_GRAY;
      ctx.lineWidth = 1.5;
      ctx.strokeRect(bx, by, bw, bh);
      fitText(ctx, c.text, bx + bw / 2, c.base, c.textW, NOTE_GRAY);
    });

    ctx.strokeStyle = "#a35bad";
    ctx.lineWidth = 3;
    ctx.strokeRect(378, 112, 325, 73);
    fitText(ctx, TEXT_TITLE, 540.7, 165, 288, NOTE_GRAY);

    ctx.restore();
  },
};

const stochAnnotations = {
  id: "stochAnnotations",
  afterDatasetsDraw(chart: any) {
    const { ctx } = chart;
    const cx = chart.scales.x.getPixelForValue(STOCH_HIGHLIGHT[0]);
    const cy = chart.scales.y.getPixelForValue(STOCH_HIGHLIGHT[1]);
    ctx.save();
    ctx.strokeStyle = "#2f9e44";
    ctx.lineWidth = 2.6;
    ctx.beginPath();
    ctx.ellipse(cx, cy, 19, 23.5, 0, 0, Math.PI * 2);
    ctx.stroke();
    ctx.restore();
  },
};

function priceConfig(): any {
  return {
    type: "bar",
    data: {
      datasets: [
        { type: "line", data: IDX.map((i) => ({ x: i, y: MA_SLOW[i] })), borderColor: MA_SLOW_COLOR, borderWidth: 1.6, pointRadius: 0, tension: 0, order: 1 },
        { type: "line", data: IDX.map((i) => ({ x: i, y: MA_FAST[i] })), borderColor: MA_FAST_COLOR, borderWidth: 1, pointRadius: 0, tension: 0, order: 1 },
        {
          type: "bar",
          data: IDX.map((i) => ({ x: i, y: [LOW[i], HIGH[i]] })),
          backgroundColor: (c: any) => (isUp(c.dataIndex) ? UP : DOWN),
          barThickness: 1,
          grouped: false,
          minBarLength: 1,
          order: 3,
        },
        {
          type: "bar",
          data: IDX.map((i) => ({ x: i, y: [OPEN[i], CLOSE[i]] })),
          backgroundColor: (c: any) => (isUp(c.dataIndex) ? UP_FILL : DOWN),
          borderColor: (c: any) => (isUp(c.dataIndex) ? UP : DOWN),
          borderWidth: (c: any) => (isUp(c.dataIndex) ? 1 : 0),
          borderSkipped: false,
          minBarLength: 1,
          barThickness: 4,
          grouped: false,
          order: 2,
        },
      ],
    },
    options: {
      ...baseOptions,
      scales: {
        x: xAxis(false),
        y: yAxis(51.67, 113.5, PRICE_TICKS, (v) => (Number.isInteger(v) ? String(v) : v.toFixed(1)), (v) => (v % 10 === 0 ? H_MAJOR : H_MINOR)),
      },
    },
    plugins: [priceAnnotations],
  };
}

function volumeConfig(): any {
  return {
    type: "bar",
    data: {
      datasets: [
        {
          type: "bar",
          data: IDX.map((i) => ({ x: i, y: VOLUME[i] })),
          backgroundColor: (c: any) => (volUp(c.dataIndex) ? VOL_UP : VOL_DOWN),
          barThickness: 3.5,
          grouped: false,
        },
      ],
    },
    options: {
      ...baseOptions,
      layout: { padding: { top: 8 } },
      scales: {
        x: xAxis(false),
        y: yAxis(-3.85, 40, VOLUME_TICKS, (v) => `${v}M`, (v) => (v === 40 ? H_DIVIDER : v % 10 === 0 ? H_MAJOR : H_MINOR)),
      },
    },
  };
}

function stochConfig(): any {
  return {
    type: "line",
    data: {
      datasets: [
        { data: IDX.map((i) => ({ x: i, y: STOCH_D[i] })), borderColor: "#e06a6a", borderWidth: 1, pointRadius: 0, tension: 0 },
        { data: IDX.map((i) => ({ x: i, y: STOCH_K[i] })), borderColor: "#2e2e2e", borderWidth: 1, pointRadius: 0, tension: 0 },
      ],
    },
    options: {
      ...baseOptions,
      layout: { padding: { top: 8 } },
      scales: {
        x: xAxis(true),
        y: yAxis(0, 100, STOCH_TICKS, (v) => `${v}%`, (v) => (v === 100 ? H_DIVIDER : v === 0 ? H_MAJOR : H_MINOR)),
      },
    },
    plugins: [stochAnnotations],
  };
}

export default function App() {
  const priceRef = useRef<HTMLCanvasElement>(null);
  const volRef = useRef<HTMLCanvasElement>(null);
  const stochRef = useRef<HTMLCanvasElement>(null);

  useEffect(() => {
    document.body.style.margin = "0";
    document.body.style.overflow = "hidden";
    const charts = [
      new Chart(priceRef.current as HTMLCanvasElement, priceConfig()),
      new Chart(volRef.current as HTMLCanvasElement, volumeConfig()),
      new Chart(stochRef.current as HTMLCanvasElement, stochConfig()),
    ];
    return () => charts.forEach((c) => c.destroy());
  }, []);

  const abs = (left: number, top: number, width: number, height: number): React.CSSProperties => ({ position: "absolute", left, top, width, height });

  return (
    <div style={{ position: "absolute", left: 0, top: 0, width: W, height: 936, background: BG, overflow: "hidden" }}>
      <div style={{ ...abs(0, 0, W, 16), background: "#8eabc0" }}>
        <span style={{ position: "absolute", left: 3, top: 0, lineHeight: "16px", fontFamily: AXIS_FONT, fontWeight: 700, fontSize: 11.5, color: "#fff", whiteSpace: "nowrap" }}>{HEADER_TITLE}</span>
        <span style={{ position: "absolute", left: 206, top: 1, lineHeight: "16px", fontFamily: '"DejaVu Sans", sans-serif', fontSize: 6.5, letterSpacing: 0.6, color: "#eef3f7", whiteSpace: "nowrap" }}>{HEADER_SUB}</span>
      </div>
      <div style={{ ...abs(0, 16, W, 14), background: "#fff", borderBottom: "1px solid #c9c9c9", boxSizing: "border-box" }}>
        <div style={{ ...abs(429, 0, 39, 13), background: "#d8f0d8" }} />
        <div style={{ ...abs(468, 0, 57, 13), background: "#f8d8d8" }} />
        {QUOTE_SEPS.map((x) => (
          <div key={"s" + x} style={{ ...abs(x, 0, 1, 13), background: "#e2e2e2" }} />
        ))}
        {DEPTH_BARS.map((b, k) => (
          <div key={"b" + k} style={{ ...abs(970 + k * 3.6, 2, 2.2, 10), background: b === "u" ? "#bfe5bf" : b === "U" ? "#45a845" : "#d34a4a" }} />
        ))}
        {QUOTE_TEXT.map((t, k) => (
          <span
            key={"q" + k}
            style={{
              position: "absolute",
              left: QUOTE_X[k],
              top: 0,
              transform: k < 2 ? "none" : "translateX(-50%)",
              lineHeight: "13px",
              fontFamily: '"DejaVu Sans", sans-serif',
              fontSize: 10,
              color: QUOTE_COLOR[k],
              whiteSpace: "nowrap",
            }}
          >
            {t}
          </span>
        ))}
      </div>
      <canvas ref={priceRef} width={W} height={557} style={{ ...abs(0, 30, W, 557) }} />
      <canvas ref={volRef} width={W} height={179} style={{ ...abs(0, 579, W, 179) }} />
      <canvas ref={stochRef} width={W} height={186} style={{ ...abs(0, 750, W, 186) }} />
    </div>
  );
}
